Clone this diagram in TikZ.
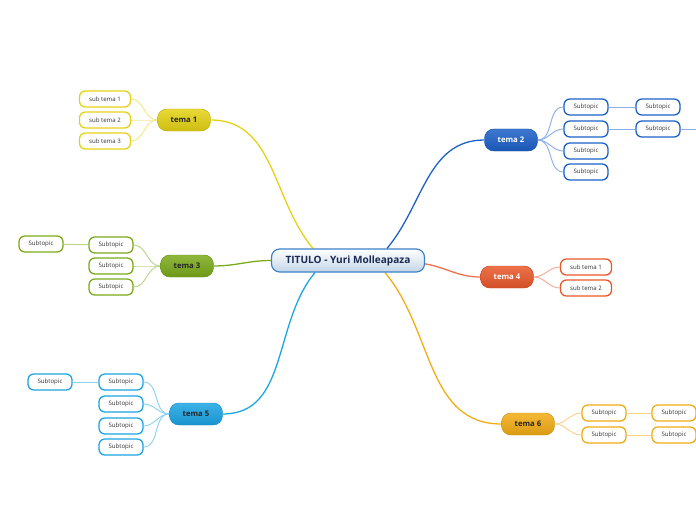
\documentclass[tikz,border=0pt]{standalone}
\usepackage{fontspec}
\setmainfont{Open Sans}
\usetikzlibrary{backgrounds}
\definecolor{rootline}{RGB}{60,128,200}
\definecolor{rootfill}{RGB}{196,214,232}
\definecolor{rootink}{RGB}{28,42,84}
\definecolor{cyel}{RGB}{228,210,20}
\definecolor{cblu}{RGB}{28,96,200}
\definecolor{cgrn}{RGB}{122,170,26}
\definecolor{cred}{RGB}{234,88,42}
\definecolor{ccya}{RGB}{28,164,228}
\definecolor{corg}{RGB}{242,172,20}

\begin{document}
\begin{tikzpicture}[
    x=0.03cm, y=0.03cm,
    root/.style={rectangle, rounded corners=7pt, draw=rootline, line width=1pt, top color=white, bottom color=rootfill, minimum width=4.59cm, minimum height=0.69cm, inner sep=0pt, font=\bfseries\fontsize{8.6}{10}\selectfont, text=rootink},
    topic/.style={rectangle, rounded corners=8pt, draw=#1!85!black, line width=0.4pt, top color=#1!85!white, bottom color=#1!90!black, minimum width=1.59cm, minimum height=0.66cm, inner sep=0pt, font=\bfseries\fontsize{6.6}{8}\selectfont, text=black!85},
    sub/.style={rectangle, rounded corners=5pt, draw=#1, line width=1.1pt, fill=white, minimum width=1.32cm, minimum height=0.48cm, inner sep=0pt, font=\fontsize{5.2}{6}\selectfont, text=black!80},
    link/.style={draw=#1, line width=1.1pt},
    sublink/.style={draw=#1!50!white, line width=0.8pt},
]
\useasboundingbox (0,0) rectangle (696,520);

\node[root] (ctr) at (348,259.5) {TITULO - Yuri Molleapaza};

% tema 1
\node[topic=cyel] (t1) at (184,400) {tema 1};
\node[sub=cyel, minimum width=1.53cm] (t1a) at (105,421) {sub tema 1};
\node[sub=cyel, minimum width=1.53cm] (t1b) at (105,400) {sub tema 2};
\node[sub=cyel, minimum width=1.53cm] (t1c) at (105,379) {sub tema 3};

% tema 2
\node[topic=cblu, text=white] (t2) at (511,380) {tema 2};
\node[sub=cblu] (t2a) at (586,413) {Subtopic};
\node[sub=cblu] (t2b) at (586,391) {Subtopic};
\node[sub=cblu] (t2c) at (586,369) {Subtopic};
\node[sub=cblu] (t2d) at (586,348) {Subtopic};
\node[sub=cblu] (t2e) at (658,413) {Subtopic};
\node[sub=cblu] (t2f) at (658,391) {Subtopic};
\coordinate (t2out) at (696,391);

% tema 3
\node[topic=cgrn] (t3) at (187,254) {tema 3};
\node[sub=cgrn] (t3a) at (111,275) {Subtopic};
\node[sub=cgrn] (t3b) at (111,254) {Subtopic};
\node[sub=cgrn] (t3c) at (111,233) {Subtopic};
\node[sub=cgrn] (t3d) at (41,276) {Subtopic};

% tema 4
\node[topic=cred, text=white] (t4) at (507,243) {tema 4};
\node[sub=cred, minimum width=1.53cm] (t4a) at (586,253) {sub tema 1};
\node[sub=cred, minimum width=1.53cm] (t4b) at (586,232) {sub tema 2};

% tema 5
\node[topic=ccya] (t5) at (196,106) {tema 5};
\node[sub=ccya] (t5a) at (121,138) {Subtopic};
\node[sub=ccya] (t5b) at (121,116) {Subtopic};
\node[sub=ccya] (t5c) at (121,94) {Subtopic};
\node[sub=ccya] (t5d) at (121,73) {Subtopic};
\node[sub=ccya] (t5e) at (50,138) {Subtopic};

% tema 6
\node[topic=corg] (t6) at (528,96) {tema 6};
\node[sub=corg] (t6a) at (604,107) {Subtopic};
\node[sub=corg] (t6b) at (604,85) {Subtopic};
\node[sub=corg] (t6c) at (674,107) {Subtopic};
\node[sub=corg] (t6d) at (674,85) {Subtopic};

\begin{scope}[on background layer]
\draw[link=cyel] ([xshift=-1.05cm]ctr.north) to[out=130,in=0] (t1.east);
\draw[link=cblu] ([xshift=1.17cm]ctr.north) to[out=50,in=180] (t2.west);
\draw[link=cgrn] (ctr.west) to[out=180,in=0] (t3.east);
\draw[link=cred!85!white] ([yshift=-0.1cm]ctr.east) to[out=-10,in=180] (t4.west);
\draw[link=ccya] ([xshift=-0.99cm]ctr.south) to[out=-130,in=0] (t5.east);
\draw[link=corg] ([xshift=1.11cm]ctr.south) to[out=-50,in=180] (t6.west);

\foreach \s in {t1a,t1b,t1c} \draw[sublink=cyel] (t1.west) to[out=180,in=0] (\s.east);
\foreach \s in {t2a,t2b,t2c,t2d} \draw[sublink=cblu] (t2.east) to[out=0,in=180] (\s.west);
\draw[sublink=cblu] (t2a) -- (t2e);
\draw[sublink=cblu] (t2b) -- (t2f);
\draw[sublink=cblu] (t2f) -- (t2out);
\foreach \s in {t3a,t3b,t3c} \draw[sublink=cgrn] (t3.west) to[out=180,in=0] (\s.east);
\draw[sublink=cgrn] (t3a) -- (t3d);
\foreach \s in {t4a,t4b} \draw[sublink=cred] (t4.east) to[out=0,in=180] (\s.west);
\foreach \s in {t5a,t5b,t5c,t5d} \draw[sublink=ccya] (t5.west) to[out=180,in=0] (\s.east);
\draw[sublink=ccya] (t5a) -- (t5e);
\foreach \s in {t6a,t6b} \draw[sublink=corg] (t6.east) to[out=0,in=180] (\s.west);
\draw[sublink=corg] (t6a) -- (t6c);
\draw[sublink=corg] (t6b) -- (t6d);
\end{scope}
\end{tikzpicture}
\end{document}
